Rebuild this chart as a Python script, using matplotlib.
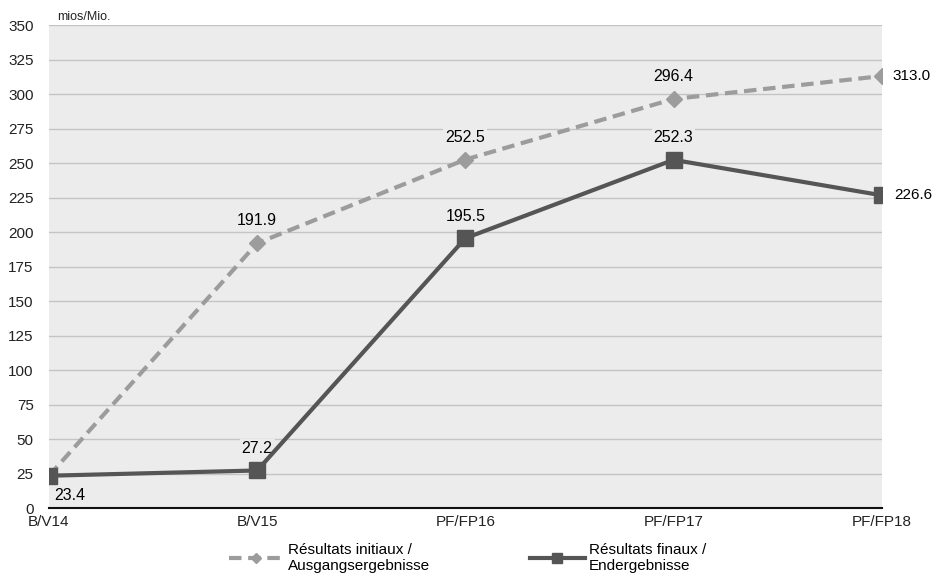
import matplotlib.pyplot as plt

plt.rcParams['font.family'] = ['Liberation Sans', 'DejaVu Sans']

categories = ["B/V14", "B/V15", "PF/FP16", "PF/FP17", "PF/FP18"]
initial = [23.4, 191.9, 252.5, 296.4, 313.0]
final = [23.4, 27.2, 195.5, 252.3, 226.6]

bg = "#ececec"
fig = plt.figure(figsize=(9.35, 5.75), dpi=100)
ax = fig.add_axes([0.0524, 0.1165, 0.8906, 0.84])
ax.set_facecolor(bg)

x = list(range(len(categories)))
ax.plot(x, initial, color="#9c9c9c", lw=3, ls=(0, (3, 1.6)), marker="D",
        ms=8, mec="#9c9c9c", mfc="#9c9c9c", zorder=3,
        label="Résultats initiaux /\nAusgangsergebnisse")
ax.plot(x, final, color="#555555", lw=3, marker="s", ms=11,
        mec="#555555", mfc="#555555", zorder=4,
        label="Résultats finaux /\nEndergebnisse")

box = dict(facecolor=bg, edgecolor="none", pad=1.5)
fs = 11.5

# value labels
for i in range(1, 4):
    ax.annotate(f"{initial[i]:.1f}", (i, initial[i]), xytext=(0, 16),
                textcoords="offset points", ha="center", va="center",
                fontsize=fs, bbox=box, zorder=2)
ax.annotate(f"{initial[4]:.1f}", (4, initial[4]), xytext=(8, 0),
            textcoords="offset points", ha="left", va="center", fontsize=11)
ax.annotate(f"{final[0]:.1f}", (0, final[0]), xytext=(4, -9),
            textcoords="offset points", ha="left", va="top", fontsize=fs,
            bbox=box, zorder=2)
for i in range(1, 4):
    ax.annotate(f"{final[i]:.1f}", (i, final[i]), xytext=(0, 16),
                textcoords="offset points", ha="center", va="center",
                fontsize=fs, bbox=box, zorder=2)
ax.annotate(f"{final[4]:.1f}", (4, final[4]), xytext=(9, 0),
            textcoords="offset points", ha="left", va="center", fontsize=11)

ax.set_xlim(0, 4)
ax.set_ylim(0, 350)
ax.set_yticks(range(0, 351, 25))
ax.set_xticks(x)
ax.set_xticklabels(categories)
ax.tick_params(length=0, labelsize=fs - 0.5, colors="#222222")
ax.tick_params(axis="y", pad=11)
ax.tick_params(axis="x", pad=5)
ax.grid(axis="y", color="#c4c4c4", lw=1)
ax.set_axisbelow(True)
for s in ["top", "right", "left"]:
    ax.spines[s].set_visible(False)
ax.spines["bottom"].set_color("#111111")
ax.spines["bottom"].set_linewidth(1.5)
ax.spines["bottom"].set_zorder(5)

ax.text(0.01, 1.004, "mios/Mio.", transform=ax.transAxes, fontsize=9,
        ha="left", va="bottom", color="#222222")

fig.legend(loc="lower center", bbox_to_anchor=(0.5, -0.02), ncol=2,
           frameon=False, fontsize=fs - 0.5, handlelength=3.6, handletextpad=0.3,
           columnspacing=6.5, markerscale=0.6, labelspacing=0.1)

fig.savefig("out.png", dpi=100)
